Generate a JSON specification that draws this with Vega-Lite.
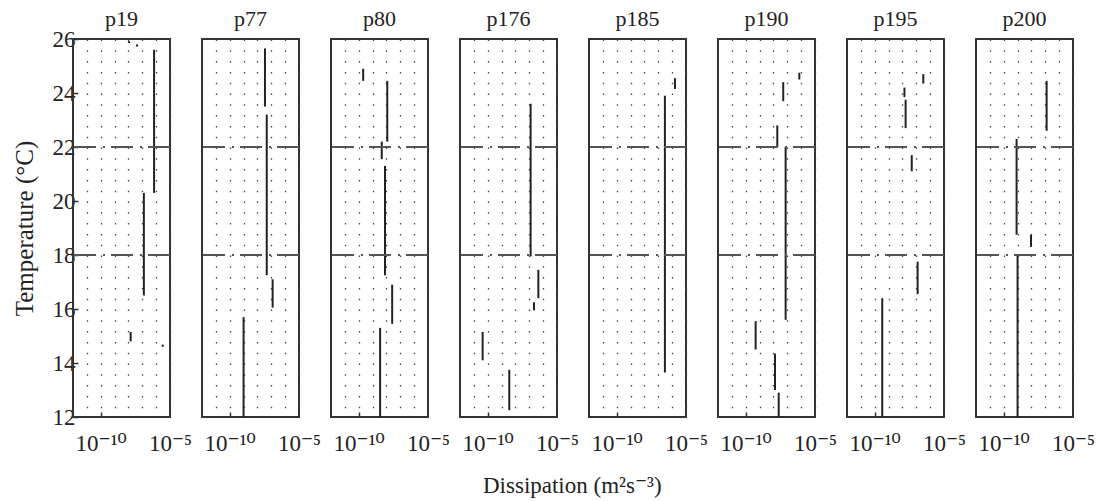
{
  "$schema": "https://vega.github.io/schema/vega-lite/v6.json",
  "background": "white",
  "padding": {"left": 12, "top": 8, "right": 5, "bottom": 5},
  "title": {"text": "Dissipation (m²s⁻³)", "orient": "bottom", "anchor": "middle", "frame": "bounds", "fontSize": 23, "font": "Liberation Serif, DejaVu Serif", "fontWeight": "normal", "color": "#222", "offset": 20, "dx": 19},
  "data": {"values": [
    {"p": "p19", "ref": 18}, {"p": "p19", "ref": 22},
    {"p": "p77", "ref": 18}, {"p": "p77", "ref": 22},
    {"p": "p80", "ref": 18}, {"p": "p80", "ref": 22},
    {"p": "p176", "ref": 18}, {"p": "p176", "ref": 22},
    {"p": "p185", "ref": 18}, {"p": "p185", "ref": 22},
    {"p": "p190", "ref": 18}, {"p": "p190", "ref": 22},
    {"p": "p195", "ref": 18}, {"p": "p195", "ref": 22},
    {"p": "p200", "ref": 18}, {"p": "p200", "ref": 22},

    {"p": "p19", "eps": 7.1e-7, "t1": 20.3, "t2": 25.6},
    {"p": "p19", "eps": 1.3e-7, "t1": 16.5, "t2": 20.3},
    {"p": "p19", "eps": 1.45e-8, "t1": 14.8, "t2": 15.15},
    {"p": "p19", "eps": 2.95e-6, "t1": 14.6, "t2": 14.68},
    {"p": "p19", "eps": 1.1e-8, "t1": 25.85, "t2": 25.92},
    {"p": "p19", "eps": 4.2e-8, "t1": 25.72, "t2": 25.8},

    {"p": "p77", "eps": 3.5e-8, "t1": 23.5, "t2": 25.65},
    {"p": "p77", "eps": 4.7e-8, "t1": 17.25, "t2": 23.2},
    {"p": "p77", "eps": 1.25e-7, "t1": 16.05, "t2": 17.1},
    {"p": "p77", "eps": 1.0e-9, "t1": 12, "t2": 15.7},

    {"p": "p80", "eps": 2.1e-10, "t1": 24.45, "t2": 24.9},
    {"p": "p80", "eps": 1.15e-8, "t1": 22.2, "t2": 24.45},
    {"p": "p80", "eps": 4.6e-9, "t1": 21.55, "t2": 22.2},
    {"p": "p80", "eps": 7.9e-9, "t1": 17.25, "t2": 21.3},
    {"p": "p80", "eps": 2.6e-8, "t1": 15.45, "t2": 16.9},
    {"p": "p80", "eps": 3.5e-9, "t1": 12, "t2": 15.3},

    {"p": "p176", "eps": 1.25e-7, "t1": 17.95, "t2": 23.6},
    {"p": "p176", "eps": 4.5e-7, "t1": 16.4, "t2": 17.45},
    {"p": "p176", "eps": 2.2e-7, "t1": 15.95, "t2": 16.25},
    {"p": "p176", "eps": 4.3e-11, "t1": 14.1, "t2": 15.15},
    {"p": "p176", "eps": 3.6e-9, "t1": 12.25, "t2": 13.75},

    {"p": "p185", "eps": 1.6e-6, "t1": 24.15, "t2": 24.55},
    {"p": "p185", "eps": 3.0e-7, "t1": 13.65, "t2": 23.9},

    {"p": "p190", "eps": 7.4e-7, "t1": 24.5, "t2": 24.75},
    {"p": "p190", "eps": 5.1e-8, "t1": 23.7, "t2": 24.4},
    {"p": "p190", "eps": 1.9e-8, "t1": 22.0, "t2": 22.8},
    {"p": "p190", "eps": 7.6e-8, "t1": 15.6, "t2": 22.0},
    {"p": "p190", "eps": 5.2e-10, "t1": 14.5, "t2": 15.55},
    {"p": "p190", "eps": 1.3e-8, "t1": 13.0, "t2": 14.35},
    {"p": "p190", "eps": 2.4e-8, "t1": 12, "t2": 12.9},

    {"p": "p195", "eps": 3.2e-7, "t1": 24.35, "t2": 24.7},
    {"p": "p195", "eps": 1.4e-8, "t1": 23.85, "t2": 24.2},
    {"p": "p195", "eps": 1.7e-8, "t1": 22.7, "t2": 23.75},
    {"p": "p195", "eps": 4.7e-8, "t1": 21.1, "t2": 21.7},
    {"p": "p195", "eps": 1.25e-7, "t1": 16.55, "t2": 17.75},
    {"p": "p195", "eps": 3.5e-10, "t1": 12, "t2": 16.4},

    {"p": "p200", "eps": 1.25e-7, "t1": 22.6, "t2": 24.45},
    {"p": "p200", "eps": 8.5e-10, "t1": 18.75, "t2": 22.3},
    {"p": "p200", "eps": 9.3e-9, "t1": 18.3, "t2": 18.75},
    {"p": "p200", "eps": 1.0e-9, "t1": 12, "t2": 18.0}
  ]},
  "facet": {
    "column": {
      "field": "p", "type": "nominal",
      "sort": ["p19", "p77", "p80", "p176", "p185", "p190", "p195", "p200"],
      "header": {"title": null, "labelFont": "Liberation Serif", "labelFontSize": 22, "labelColor": "#222", "labelPadding": 8}
    }
  },
  "spacing": 32,
  "bounds": "flush",
  "spec": {
    "width": 97,
    "height": 378,
    "layer": [
      {
        "transform": [{"filter": "datum.eps != null"}],
        "mark": {"type": "rule", "color": "#222", "strokeWidth": 2},
        "encoding": {
          "x": {
            "field": "eps", "type": "quantitative",
            "scale": {"type": "log", "domain": [1e-12, 1e-5], "nice": false},
            "axis": {
              "values": [1e-11, 1e-10, 1e-9, 1e-8, 1e-7, 1e-6, 1e-5],
              "labelExpr": "datum.value == 1e-10 ? '10⁻¹⁰' : (datum.value == 1e-5 ? '10⁻⁵' : '')",
              "title": null,
              "grid": true, "gridDash": [1.5, 9.3], "gridColor": "#444", "gridWidth": 1.3,
              "tickSize": -5, "tickColor": "#333", "tickWidth": 1.5,
              "tickOpacity": {"condition": {"test": "datum.value == 1e-10", "value": 1}, "value": 0},
              "domain": false, "labelFlush": false, "labelOverlap": false, "labelBound": false,
              "labelFont": "Liberation Serif, DejaVu Serif", "labelFontSize": 23, "labelColor": "#222", "labelPadding": 20
            }
          },
          "y": {
            "field": "t1", "type": "quantitative",
            "scale": {"domain": [12, 26], "nice": false, "zero": false},
            "axis": {
              "values": [12, 14, 16, 18, 20, 22, 24, 26],
              "title": "Temperature (°C)", "titleFont": "Liberation Serif", "titleFontSize": 25, "titleFontWeight": "normal", "titleColor": "#222", "titlePadding": 15,
              "grid": false, "domain": false, "tickSize": -5, "tickColor": "#333", "tickWidth": 1.5,
              "labelFont": "Liberation Serif", "labelFontSize": 23, "labelColor": "#222", "labelPadding": 3
            }
          },
          "y2": {"field": "t2"}
        }
      },
      {
        "transform": [{"filter": "datum.ref != null"}],
        "mark": {"type": "rule", "color": "#555", "strokeWidth": 2, "strokeDash": [22, 6, 2, 7]},
        "encoding": {
          "y": {
            "field": "ref", "type": "quantitative",
            "scale": {"domain": [12, 26], "nice": false, "zero": false},
            "axis": {
              "values": [12, 14, 16, 18, 20, 22, 24, 26],
              "title": "Temperature (°C)", "titleFont": "Liberation Serif", "titleFontSize": 25, "titleFontWeight": "normal", "titleColor": "#222", "titlePadding": 15,
              "grid": false, "domain": false, "tickSize": -5, "tickColor": "#333", "tickWidth": 1.5,
              "labelFont": "Liberation Serif", "labelFontSize": 23, "labelColor": "#222", "labelPadding": 3
            }
          }
        }
      }
    ]
  },
  "config": {
    "font": "Liberation Serif",
    "view": {"stroke": "#333", "strokeWidth": 2}
  }
}
